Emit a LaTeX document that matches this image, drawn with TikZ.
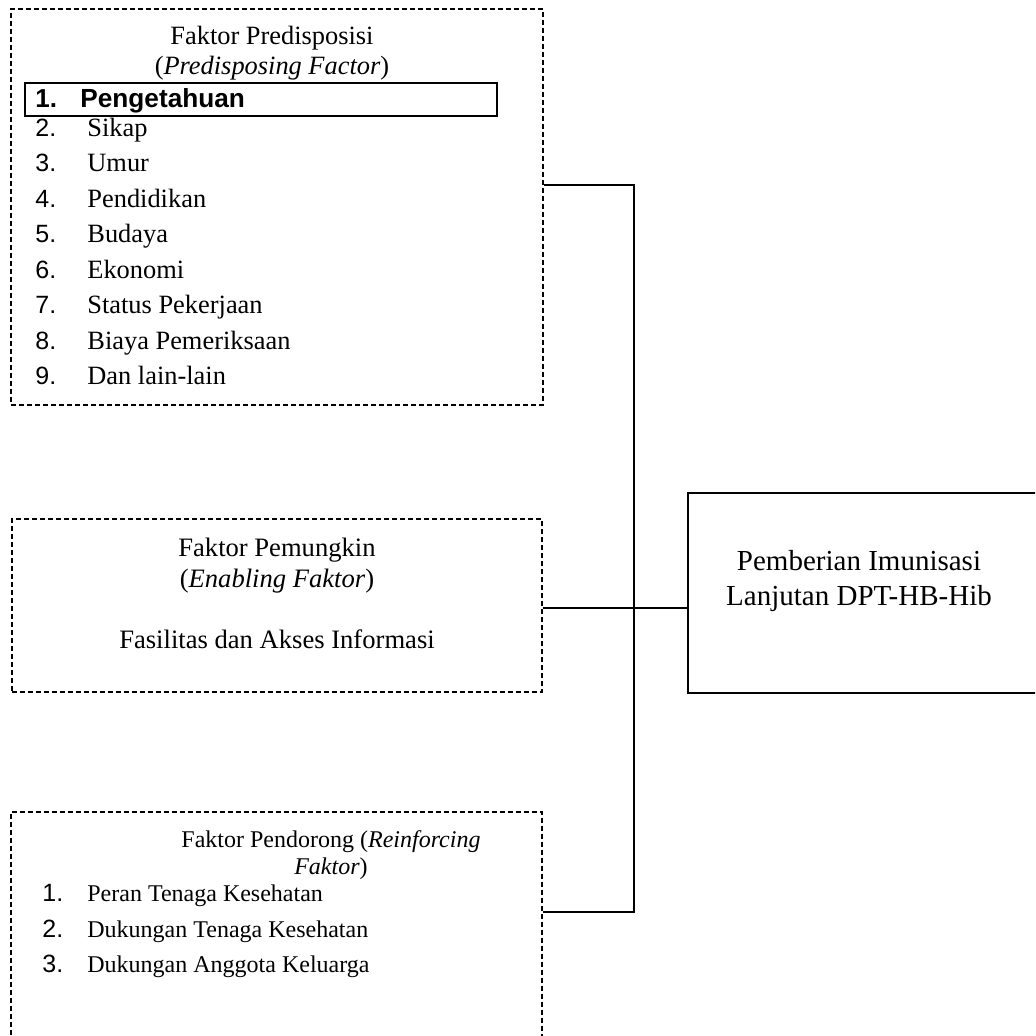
\documentclass[tikz,border=0pt]{standalone}
\usepackage{fontspec}
\setmainfont{Liberation Serif}
\setsansfont{Liberation Sans}
\usetikzlibrary{positioning,calc}

\begin{document}
\begin{tikzpicture}[x=0.5pt, y=-0.5pt,
  factor/.style={draw, line width=0.6pt, dash pattern=on 2.5pt off 1.5pt, inner sep=0pt},
  outcome/.style={draw, line width=0.7pt, inner sep=0pt},
  link/.style={line width=0.7pt},
  num/.style={anchor=west, inner sep=0pt, font=\sffamily\fontsize{12.5}{14}\selectfont,
              text height=11pt, text depth=2.2pt},
  item/.style={anchor=west, inner sep=0pt, font=\fontsize{13.2}{15}\selectfont,
               text height=11pt, text depth=2.2pt},
  title/.style={align=center, inner sep=0pt, font=\fontsize{13.2}{15}\selectfont}]
  \useasboundingbox (0,0) rectangle (1035,1036);
  \clip (0,0) rectangle (1035,1036);

  % the four boxes
  \node[factor, minimum width=266pt, minimum height=198pt] (pred) at (277,207) {};
  \node[factor, minimum width=265pt, minimum height=86.5pt] (enab) at (277,605.5) {};
  \node[factor, minimum width=265.5pt, minimum height=124pt] (reinf) at (276.5,936) {};
  \node[outcome, minimum width=178.5pt, minimum height=100pt] (outc) at (866.5,593) {};

  % predisposing factors
  \node[title, anchor=north] (predT) at (272,26) {Faktor Predisposisi\\(\textit{Predisposing Factor})};
  \node[draw, line width=0.9pt, minimum width=236pt, minimum height=16.5pt, inner sep=0pt] (know) at (261,99.5) {};
  \node[num, font=\sffamily\bfseries\fontsize{13}{15}\selectfont] (n1) at (35,99) {1.};
  \node[item, font=\sffamily\bfseries\fontsize{13.1}{15}\selectfont] (t1) at (80,99) {Pengetahuan};
  \foreach \n/\t/\y in {2/Sikap/128, 3/Umur/163, 4/Pendidikan/198.5, 5/Budaya/234,
                        6/Ekonomi/269.5, 7/Status Pekerjaan/305, 8/Biaya Pemeriksaan/340.5,
                        9/Dan lain-lain/376} {
    \node[num] (n\n) at (35,\y) {\n.};
    \node[item] (t\n) at (87,\y) {\t};
  }

  % enabling factor
  \node[title, anchor=north, font=\fontsize{13.3}{15.25}\selectfont] (enabT) at (277,538)
    {Faktor Pemungkin\\(\textit{Enabling Faktor})\\[15.25pt]Fasilitas dan Akses Informasi};

  % reinforcing factors
  \node[title, anchor=north, font=\fontsize{12}{13.5}\selectfont] (reinfT) at (331,830)
    {Faktor Pendorong (\textit{Reinforcing}\\\textit{Faktor})};
  \foreach \n/\t/\y in {1/Peran Tenaga Kesehatan/893, 2/Dukungan Tenaga Kesehatan/929,
                        3/Dukungan Anggota Keluarga/964} {
    \node[num] (m\n) at (42,\y) {\n.};
    \node[item, font=\fontsize{12}{14}\selectfont] (s\n) at (87,\y) {\t};
  }

  % outcome
  \node[title, anchor=north, font=\fontsize{14.5}{17.5}\selectfont] (outcT) at (859,550)
    {Pemberian Imunisasi\\Lanjutan DPT-HB-Hib};

  % connectors
  \coordinate (bustop) at (634,185);
  \coordinate (busmid) at (634,608);
  \coordinate (busbot) at (634,912);
  \draw[link] (pred.east |- bustop) -- (bustop) -- (busbot) -- (reinf.east |- busbot);
  \draw[link] (enab.east |- busmid) -- (outc.west |- busmid);
\end{tikzpicture}
\end{document}
